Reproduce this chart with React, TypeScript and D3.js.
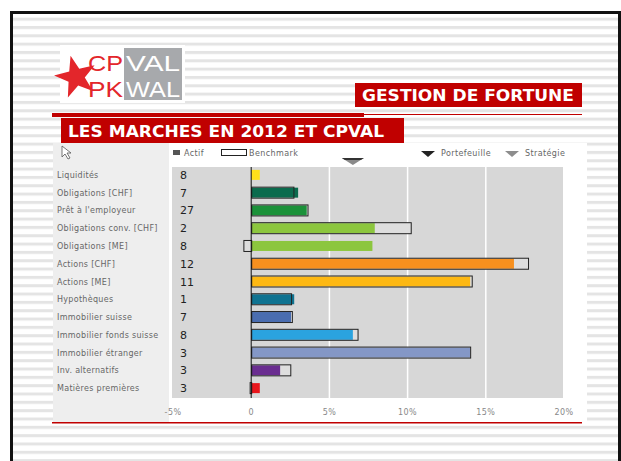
import React from 'react';
import * as d3 from 'd3';

// values (percent of assets)
const categories = [
  'Liquidités',
  'Obligations [CHF]',
  "Prêt à l'employeur",
  'Obligations conv. [CHF]',
  'Obligations [ME]',
  'Actions [CHF]',
  'Actions [ME]',
  'Hypothèques',
  'Immobilier suisse',
  'Immobilier fonds suisse',
  'Immobilier étranger',
  'Inv. alternatifs',
  'Matières premières',
];
const counts = [8, 7, 27, 2, 8, 12, 11, 1, 7, 8, 3, 3, 3];
const actif = [0.55, 3.0, 3.55, 7.9, 7.75, 16.8, 14.0, 2.75, 2.55, 6.5, 14.0, 1.85, 0.55];
const benchmark = [0, 2.7, 3.6, 10.2, -0.5, 17.7, 14.1, 2.55, 2.6, 6.8, 14.0, 2.5, -0.1];
const barColors = [
  '#ffe01a', '#0a6b4d', '#1b9139', '#8cc63e', '#8cc63e', '#f7901e', '#fdb813',
  '#0f7391', '#4a6db0', '#2aa3df', '#8497c6', '#6a2d90', '#e8151b',
];
const tickValues = [-5, 0, 5, 10, 15, 20];
const tickLabels = ['-5%', '0', '5%', '10%', '15%', '20%'];
const strategyMarker = 6.5;

const W = 621;
const H = 461;

const star = (cx: number, cy: number, r: number) => {
  const pts: [number, number][] = [];
  for (let i = 0; i < 10; i++) {
    const a = -Math.PI / 2 + (i * Math.PI) / 5 - 0.25;
    const rr = i % 2 === 0 ? r : r * 0.4;
    pts.push([cx + rr * Math.cos(a), cy + rr * Math.sin(a)]);
  }
  return 'M' + pts.map((p) => p.join(',')).join('L') + 'Z';
};

export default function App() {
  const x = d3.scaleLinear().domain([-5, 20]).range([173, 564]);
  const y = d3.scaleBand().domain(categories).range([166, 397]);
  const x0 = x(0);
  const labelFont = "'DejaVu Sans', Verdana, sans-serif";
  const logoFont = "'Liberation Sans', Arial, sans-serif";

  return (
    <div style={{ position: 'fixed', left: 0, top: 0 }}>
      <svg width={W} height={H} style={{ display: 'block' }}>
        <defs>
          <pattern id="stripes" width="10" height="8.33" patternUnits="userSpaceOnUse" y="1">
            <rect width="10" height="8.33" fill="#ffffff" />
            <rect width="10" height="3" fill="#e4e4e4" />
          </pattern>
        </defs>
        <rect width={W} height={H} fill="#fff" />
        <rect x={11} y={12} width={608} height={H} fill="url(#stripes)" />
        <rect x={11.5} y={12.5} width={608} height={H + 5} fill="none" stroke="#111" strokeWidth={3} />

        {/* logo */}
        <rect x={60} y={45} width={125} height={58} fill="#fff" />
        <path d={star(76, 77, 22)} fill="#e3262b" />
        <rect x={124} y={48} width={58} height={52} fill="#a7a9ac" />
        <text x={88} y={71} fontFamily={logoFont} fontSize={22} fill="#e3262b"
          textLength={35} lengthAdjust="spacingAndGlyphs">CP</text>
        <text x={88} y={97} fontFamily={logoFont} fontSize={22} fill="#e3262b"
          textLength={35} lengthAdjust="spacingAndGlyphs">PK</text>
        <text x={126} y={71} fontFamily={logoFont} fontSize={22} fill="#fff"
          textLength={54} lengthAdjust="spacingAndGlyphs">VAL</text>
        <text x={126} y={97} fontFamily={logoFont} fontSize={22} fill="#fff"
          textLength={54} lengthAdjust="spacingAndGlyphs">WAL</text>

        {/* headers */}
        <rect x={355} y={83} width={227} height={24} fill="#c00000" />
        <text x={362} y={101} fontFamily={labelFont} fontWeight="bold" fontSize={15} fill="#fff"
          textLength={212} lengthAdjust="spacingAndGlyphs">GESTION DE FORTUNE</text>
        <rect x={364} y={114} width={218} height={1} fill="#c00000" />
        <rect x={52} y={113} width={312} height={4} fill="#c00000" />
        <rect x={61} y={118} width={343} height={25} fill="#c00000" />
        <text x={68} y={137} fontFamily={labelFont} fontWeight="bold" fontSize={15} fill="#fff"
          textLength={316} lengthAdjust="spacingAndGlyphs">LES MARCHES EN 2012 ET CPVAL</text>

        {/* chart widget */}
        <rect x={53} y={143} width={534} height={280} fill="#fff" />
        <rect x={53} y={143} width={116} height={280} fill="#eeeeee" />
        <path d="M62,146 L62,157 L65,154 L68,159 L70,158 L67,153 L71,153 Z" fill="#fff" stroke="#555" strokeWidth={0.8} />
        <rect x={x(-5) - 1} y={167} width={x(20) - x(-5)} height={231} fill="#d7d7d7" />
        {tickValues.filter((t) => t > 0 && t < 20).map((t) => (
          <line key={t} x1={x(t)} x2={x(t)} y1={167} y2={398} stroke="#fff" strokeWidth={1.5} />
        ))}

        {/* legend */}
        <rect x={173} y={150} width={7} height={5} fill="#555" />
        <text x={184} y={156} fontFamily={labelFont} fontSize={8} fill="#666" letterSpacing={0.4}>Actif</text>
        <rect x={221.5} y={149.5} width={25} height={6} fill="#fff" stroke="#222" />
        <text x={249} y={156} fontFamily={labelFont} fontSize={8} fill="#666" letterSpacing={0.4}>Benchmark</text>
        <path d="M421,151 L435,151 L428,157 Z" fill="#222" />
        <text x={441} y={156} fontFamily={labelFont} fontSize={8} fill="#666" letterSpacing={0.4}>Portefeuille</text>
        <path d="M505,151 L519,151 L512,157 Z" fill="#8d8d8d" />
        <text x={525} y={156} fontFamily={labelFont} fontSize={8} fill="#666" letterSpacing={0.4}>Stratégie</text>
        <path d={`M${x(strategyMarker) - 11},158 L${x(strategyMarker) + 11},158 L${x(strategyMarker)},165 Z`} fill="#8a8a8a" />
        <path d={`M${x(strategyMarker) - 11},158 L${x(strategyMarker) + 11},158 L${x(strategyMarker) + 8},160 L${x(strategyMarker) - 8},160 Z`} fill="#333" />

        {/* rows */}
        {categories.map((c, i) => {
          const cy = (y(c) as number) + y.bandwidth() / 2;
          const b = benchmark[i];
          const a = actif[i];
          return (
            <g key={c}>
              <text x={57} y={cy + 3} fontFamily={labelFont} fontSize={8} fill="#666" letterSpacing={0.3}>{c}</text>
              <text x={180} y={cy + 4} fontFamily={labelFont} fontSize={11} fill="#222">{counts[i]}</text>
              {b !== 0 && (
                <rect x={Math.min(x(b), x0)} y={cy - 5.5} width={Math.abs(x(b) - x0)} height={11} fill="#dedede" />
              )}
              <rect x={Math.min(x(a), x0)} y={cy - 5} width={Math.abs(x(a) - x0)} height={10} fill={barColors[i]} />
              {b !== 0 && (
                <rect x={Math.min(x(b), x0) + 0.5} y={cy - 5.5} width={Math.abs(x(b) - x0)} height={11}
                  fill="none" stroke="#222" strokeWidth={1} />
              )}
            </g>
          );
        })}
        <line x1={x0} x2={x0} y1={167} y2={398} stroke="#111" strokeWidth={1} />

        {/* axis */}
        {tickValues.map((t, i) => (
          <text key={t} x={x(t)} y={415} textAnchor="middle" fontFamily={labelFont} fontSize={8}
            fill="#888" letterSpacing={0.4}>{tickLabels[i]}</text>
        ))}
        <rect x={52} y={422} width={530} height={1.5} fill="#c00000" />
      </svg>
    </div>
  );
}
